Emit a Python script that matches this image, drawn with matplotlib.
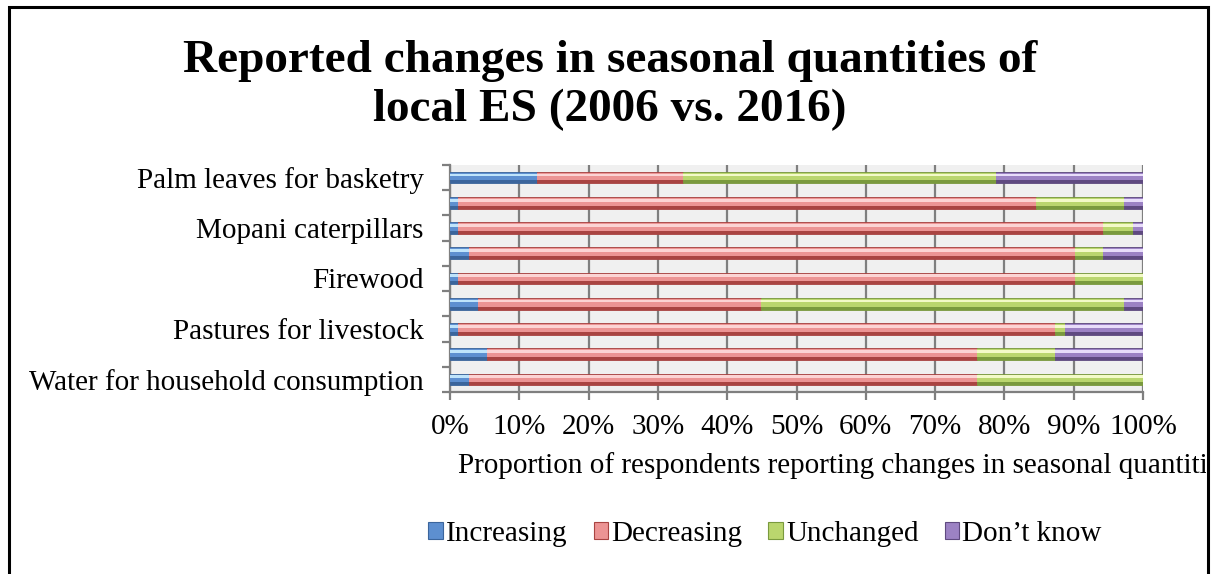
import matplotlib.pyplot as plt
import numpy as np
from matplotlib.patches import Patch, Rectangle
from matplotlib.transforms import Bbox

# ==========================================
# DATA (top bar first, % of respondents)
# ==========================================
categories = ["Palm leaves for basketry", "", "Mopani caterpillars", "",
              "Firewood", "", "Pastures for livestock", "",
              "Water for household consumption"]
increasing = [12.6, 1.2, 1.2, 2.7, 1.2, 4.1, 1.2, 5.3, 2.7]
decreasing = [21.0, 83.3, 93.1, 87.5, 89.0, 40.8, 86.1, 70.7, 73.3]
unchanged = [45.2, 12.7, 4.3, 4.1, 9.8, 52.3, 1.4, 11.3, 24.0]
dont_know = [21.2, 2.8, 1.4, 5.7, 0.0, 2.8, 11.3, 12.7, 0.0]
series_names = ["Increasing", "Decreasing", "Unchanged", "Don\u2019t know"]
x_ticks = list(range(0, 101, 10))

# (dark, mid, light) shades to fake the Excel bevel look
shades = [("#3b659c", "#5d8fd0", "#bfe4fb"),
          ("#a94442", "#ec9494", "#fcd4d4"),
          ("#7a9a3e", "#bad66e", "#f3fac8"),
          ("#5f4a80", "#9c82c4", "#e8ddfa")]

plt.rcParams['font.family'] = ['Liberation Serif', 'DejaVu Serif']
FS = 21

fig = plt.figure(figsize=(12.13, 5.74), dpi=100)
fig.patch.set_facecolor("white")

# chart frame
fig.patches.append(Rectangle((9 / 1213, -0.1), 1199 / 1213, 1.1 - 7.5 / 574,
                             transform=fig.transFigure, fill=False,
                             edgecolor="black", linewidth=2.2))

ax = fig.add_axes([450 / 1213, 1 - 392 / 574, 693 / 1213, 227 / 574])
ax.set_facecolor("#f0f0f0")

ypos = np.arange(len(categories))
h = 0.46
left = np.zeros(len(categories))
for vals, (dark, mid, light) in zip([increasing, decreasing, unchanged, dont_know], shades):
    vals = np.array(vals)
    ax.barh(ypos - h / 2, vals, height=h, left=left, align='edge',
            color=dark, edgecolor=dark, linewidth=0.6, zorder=3)
    ax.barh(ypos - h / 2 + 0.04, vals, height=h * 0.66, left=left, align='edge',
            color=mid, linewidth=0, zorder=4)
    ax.barh(ypos - h / 2 + 0.07, vals, height=h * 0.24, left=left, align='edge',
            color=light, linewidth=0, zorder=5)
    left += vals

ax.set_xlim(0, 100)
ax.set_ylim(len(categories) - 0.5, -0.5)

ax.set_xticks(x_ticks)
ax.set_xticklabels([f"{t}%" for t in x_ticks], fontsize=FS)
ax.grid(axis='x', color="#7f7f7f", linewidth=1.6, zorder=1)
ax.set_axisbelow(True)
ax.tick_params(axis='x', length=6, width=1.6, color="#7f7f7f", pad=10)

ax.set_yticks(ypos)
ax.set_yticklabels(categories, fontsize=FS)
ax.tick_params(axis='y', which='major', length=0, pad=19)
ax.set_yticks(np.arange(-0.5, len(categories)), minor=True)
ax.tick_params(axis='y', which='minor', length=6, width=1.6, color="#7f7f7f")

for side in ["top", "right"]:
    ax.spines[side].set_visible(False)
for side in ["left", "bottom"]:
    ax.spines[side].set_color("#7f7f7f")
    ax.spines[side].set_linewidth(1.6)

# titles
fig.text(610 / 1213, 1 - 72 / 574, "Reported changes in seasonal quantities of",
         ha='center', va='baseline', fontsize=34, fontweight='bold')
fig.text(610 / 1213, 1 - 121 / 574, "local ES (2006 vs. 2016)",
         ha='center', va='baseline', fontsize=34, fontweight='bold')

# x axis label, cut by the frame like in the original
xl = fig.text(458 / 1213, 1 - 473 / 574,
              "Proportion of respondents reporting changes in seasonal quantities",
              ha='left', va='baseline', fontsize=FS)
xl.set_clip_box(Bbox([[0, 0], [1206, 574]]))
xl.set_clip_on(True)

handles = [Patch(facecolor=s[1], edgecolor=s[0], linewidth=0.8) for s in shades]
fig.legend(handles, series_names, loc='center', bbox_to_anchor=(765 / 1213, 1 - 534 / 574),
           ncol=4, frameon=False, fontsize=FS, handlelength=0.5, handleheight=0.5,
           handletextpad=0.1, columnspacing=0.9)

fig.savefig("out.png", dpi=100)
